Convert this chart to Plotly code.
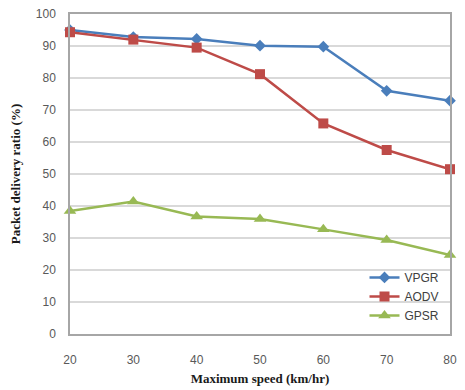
import plotly.graph_objects as go

speed = [20, 30, 40, 50, 60, 70, 80]
vpgr = [95.0, 92.8, 92.2, 90.1, 89.8, 76.0, 72.9]
aodv = [94.3, 92.0, 89.5, 81.2, 65.8, 57.5, 51.5]
gpsr = [38.4, 41.4, 36.7, 35.9, 32.7, 29.4, 24.7]

series = [
    ("VPGR", vpgr, "#4a7ebb", "diamond", 9),
    ("AODV", aodv, "#be4b48", "square", 10),
    ("GPSR", gpsr, "#98b954", "triangle-up", 11),
]

fig = go.Figure()
for name, vals, color, sym, size in series:
    fig.add_trace(go.Scatter(
        x=speed, y=vals, name=name, mode="lines+markers",
        line=dict(color=color, width=2.5),
        marker=dict(symbol=sym, size=size, color=color),
        cliponaxis=False,
    ))

fig.update_layout(
    width=465, height=390,
    margin=dict(l=70, r=15, t=14, b=56),
    paper_bgcolor="white", plot_bgcolor="white",
    font=dict(family="Liberation Sans, Arial, sans-serif", size=12, color="#595959"),
    legend=dict(x=0.775, y=0.222, xanchor="left", yanchor="top",
                bgcolor="rgba(0,0,0,0)", font=dict(size=12, color="#404040"),
                itemwidth=30, tracegroupgap=0),
    showlegend=True,
)
fig.update_xaxes(
    range=[20, 80], dtick=10, tick0=20, automargin=False,
    showgrid=False, zeroline=False,
    showline=True, linecolor="#a6a6a6", linewidth=1.5, mirror=True,
    ticks="outside", ticklen=14, tickcolor="rgba(0,0,0,0)",
    title=dict(text="<b>Maximum speed (km/hr)</b>",
               font=dict(family="Liberation Serif, Times New Roman, serif", size=13, color="#1a1a1a"),
               standoff=8),
)
fig.update_yaxes(
    range=[0, 100], dtick=10, automargin=False,
    showgrid=True, gridcolor="#d9d9d9", gridwidth=1.5, zeroline=False,
    showline=True, linecolor="#a6a6a6", linewidth=1.5, mirror=True,
    ticks="outside", ticklen=10, tickcolor="rgba(0,0,0,0)",
    title=dict(text="<b>Packet delivery ratio (%)</b>",
               font=dict(family="Liberation Serif, Times New Roman, serif", size=13, color="#1a1a1a"),
               standoff=12),
)

fig.write_html("out.html")
